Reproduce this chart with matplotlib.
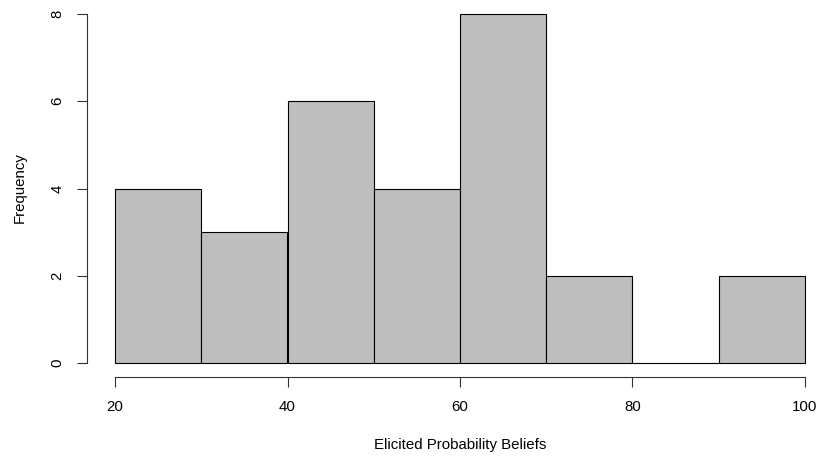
import matplotlib
matplotlib.use("Agg")
import matplotlib.pyplot as plt
import numpy as np

bin_edges = [20, 30, 40, 50, 60, 70, 80, 90, 100]
counts = [4, 3, 6, 4, 8, 2, 0, 2]
x_ticks = [20, 40, 60, 80, 100]
y_ticks = [0, 2, 4, 6, 8]
xlabel = "Elicited Probability Beliefs"
ylabel = "Frequency"

plt.rcParams['font.family'] = ['Liberation Sans', 'DejaVu Sans']
fs = 10.8

fig = plt.figure(figsize=(8.2, 4.57), dpi=100)
W, H = 820, 457
ax = fig.add_axes([115 / W, 1 - 363 / H, (805 - 115) / W, (363 - 14) / H])

lefts = bin_edges[:-1]
widths = np.diff(bin_edges)
bars = ax.bar(lefts, counts, width=widths, align='edge', color='#BEBEBE',
              edgecolor='black', linewidth=0.8)
for b in bars:
    b.set_clip_on(False)

ax.set_xlim(20, 100)
ax.set_ylim(0, 8)

for s in ['top', 'right']:
    ax.spines[s].set_visible(False)
ax.spines['bottom'].set_position(('outward', 10.1))
ax.spines['left'].set_position(('outward', 20))
ax.spines['bottom'].set_bounds(20, 100)
ax.spines['left'].set_bounds(0, 8)
for s in ['bottom', 'left']:
    ax.spines[s].set_linewidth(0.8)
    ax.spines[s].set_color('#333333')

ax.set_xticks(x_ticks)
ax.set_yticks(y_ticks)
ax.set_xticklabels([str(v) for v in x_ticks], fontsize=fs)
ax.set_yticklabels([str(v) for v in y_ticks], fontsize=fs, rotation=90, va='center')
ax.tick_params(axis='both', length=7.2, width=0.8, color='#333333')
ax.tick_params(axis='x', pad=9)
ax.tick_params(axis='y', pad=9)

fig.text(460 / W, 1 - 445 / H, xlabel, ha='center', va='center', fontsize=fs)
fig.text(20 / W, 1 - 188 / H, ylabel, ha='center', va='center', fontsize=fs, rotation=90)

fig.savefig("out.png", dpi=100)
